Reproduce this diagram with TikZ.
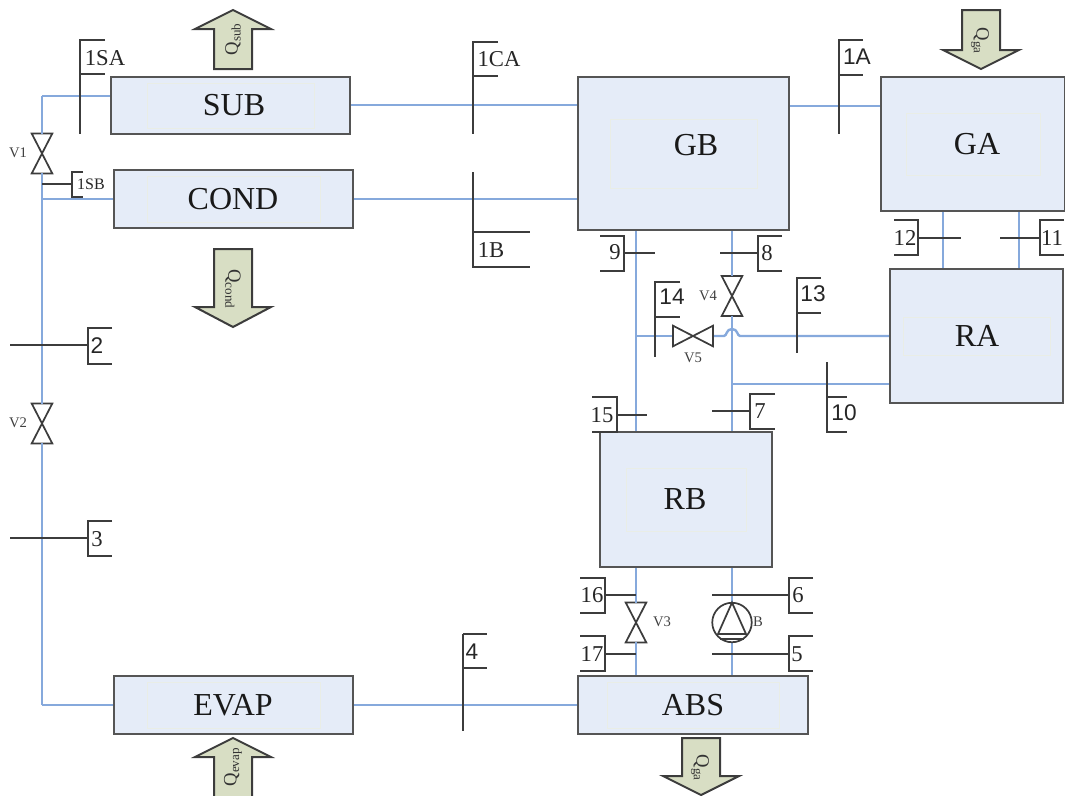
\documentclass[tikz,border=0pt]{standalone}
\usepackage{fontspec}
\setmainfont{Liberation Serif}
\newfontfamily\sansf{Liberation Sans}
\definecolor{boxfill}{HTML}{E5ECF8}
\definecolor{boxedge}{HTML}{555555}
\definecolor{innerc}{HTML}{E9EDE6}
\definecolor{pipec}{HTML}{86A9DC}
\definecolor{linec}{HTML}{3C3C3C}
\definecolor{arrowf}{HTML}{D8DEC4}
\tikzset{
  boxn/.style={draw=boxedge,fill=boxfill,line width=1.9pt,inner sep=0pt,font=\fontsize{24}{24}\selectfont,line join=miter},
  innerb/.style={draw=innerc,line width=0.6pt},
  pipe/.style={draw=pipec,line width=1.8pt},
  sect/.style={draw=linec,line width=1.3pt},
  lab/.style={inner sep=0pt,text=black!85,font=\fontsize{17}{17}\selectfont},
  slab/.style={inner sep=0pt,text=black!85,font=\sansf\fontsize{17}{17}\selectfont},
  vlab/.style={inner sep=0pt,text=black!75,font=\fontsize{11}{11}\selectfont},
  sym/.style={draw=linec,line width=1.3pt,line join=miter},
  qarrow/.style={draw=linec,fill=arrowf,line width=1.5pt,line join=miter},
  qlab/.style={inner sep=0pt,text=black!80,font=\fontsize{14}{14}\selectfont},
}
% name, x1, y1, x2, y2, label, inner inset x, inner inset y, label x, label y
\newcommand\bxn[8]{%
  \node[boxn,minimum width={(#4-#2)*0.75pt},minimum height={(#5-#3)*0.75pt},anchor=center] (#1) at ({(#2+#4)/2},{(#3+#5)/2}) {};
  \draw[innerb] ({#2+#7},{#3+#8}) rectangle ({#4-#7},{#5-#8});
}
\newcommand\bxl[4]{%
  \node[inner sep=0pt,font=\fontsize{24}{24}\selectfont,text=black!90] (#1t) at (#2,#3) {#4};
}
% vertical valve
\newcommand\vvalve[3]{%
  \node[inner sep=0pt,minimum width=15pt,minimum height=29.5pt] (#1) at (#2,#3) {};
  \draw[sym] (#1.north west)--(#1.north east)--(#1.south west)--(#1.south east)--cycle;
}
% arrows: center x, tip y, head base y, shaft end y
\newcommand\qarr[4]{%
  \draw[qarrow] (#1-38,#3)--(#1,#2)--(#1+38,#3)--(#1+19,#3)--(#1+19,#4)--(#1-19,#4)--(#1-19,#3)--cycle;
}
\begin{document}
\begin{tikzpicture}[x=0.75pt,y=-0.75pt]
\useasboundingbox (0,0) rectangle (1065,796);
% valves and pump
\vvalve{V1}{42}{153.5}
\vvalve{V2}{42}{423.5}
\vvalve{V3}{636}{622.5}
\vvalve{V4}{732}{296}
\node[inner sep=0pt,minimum width=29.5pt,minimum height=15pt] (V5) at (693,336) {};
\node[circle,inner sep=0pt,minimum size=29.5pt] (B) at (732,622.5) {};
% named pipe corners
\coordinate (c1) at (42,96);
\coordinate (c2) at (42,199);
\coordinate (c3) at (42,705);
\coordinate (c4) at (636,336);
\coordinate (c5) at (732,384);
\coordinate (h1) at (724,336);
\coordinate (h2) at (740,336);
% pipes (under the boxes)
\draw[pipe] (c1)--(V1.north);
\draw[pipe] (V1.south)--(V2.north);
\draw[pipe] (V2.south)--(c3);
\draw[pipe] (c2)--(114,199);
\draw[pipe] (c1)--(111,96);
\draw[pipe] (c3)--(114,705);
\draw[pipe] (350,105)--(578,105);
\draw[pipe] (353,199)--(578,199);
\draw[pipe] (789,106)--(881,106);
\draw[pipe] (353,705)--(578,705);
\draw[pipe] (636,230)--(636,432);
\draw[pipe] (732,230)--(V4.north);
\draw[pipe] (V4.south)--(732,432);
\draw[pipe] (c4)--(V5.west);
\draw[pipe] (V5.east)--(h1) .. controls (727,336) and (726,329) .. (732,329) .. controls (738,329) and (737,336) .. (h2)--(890,336);
\draw[pipe] (c5)--(890,384);
\draw[pipe] (943,211)--(943,269);
\draw[pipe] (1019,211)--(1019,269);
\draw[pipe] (636,567)--(V3.north);
\draw[pipe] (V3.south)--(636,676);
\draw[pipe] (732,567)--(B.north);
\draw[pipe] (B.south)--(732,676);
% boxes
\bxn{SUB}{111}{77}{350}{134}{SUB}{36}{6}
\bxl{SUB}{234}{105}{SUB}
\bxn{COND}{114}{170}{353}{228}{COND}{33}{6}
\bxl{COND}{233}{199}{COND}
\bxn{GB}{578}{77}{789}{230}{GB}{32}{42}
\bxl{GB}{696}{145}{GB}
\bxn{GA}{881}{77}{1065}{211}{GA}{25}{36}
\bxl{GA}{977}{144}{GA}
\bxn{RA}{890}{269}{1063}{403}{RA}{13}{48}
\bxl{RA}{977}{336}{RA}
\bxn{RB}{600}{432}{772}{567}{RB}{26}{36}
\bxl{RB}{685}{499}{RB}
\bxn{EVAP}{114}{676}{353}{734}{EVAP}{33}{6}
\bxl{EVAP}{233}{705}{EVAP}
\bxn{ABS}{578}{676}{808}{734}{ABS}{29}{6}
\bxl{ABS}{693}{705}{ABS}
% valve / pump symbols on top
\draw[sym] (V5.north west)--(V5.south west)--(V5.north east)--(V5.south east)--cycle;
\draw[sym] (B) circle (14.8pt);
\draw[sym] (B.north)--(718,634)--(746,634)--cycle;
\draw[sym] (720,639)--(744,639);
% section markers
\draw[sect] (105,40)--(80,40)--(80,134) (80,74)--(105,74);
\node[lab] (n1SA) at (105,58) {1SA};
\draw[sect] (42,184)--(72,184) (83,172)--(72,172)--(72,197)--(83,197);
\node[lab,font=\fontsize{12}{12}\selectfont] (n1SB) at (91,184) {1SB};
\draw[sect] (498,42)--(473,42)--(473,134) (473,76)--(498,76);
\node[lab] (n1CA) at (499,59) {1CA};
\draw[sect] (473,172)--(473,267)--(530,267) (473,232)--(530,232);
\node[lab] (n1B) at (491,250) {1B};
\draw[sect] (863,40)--(839,40)--(839,134) (839,75)--(863,75);
\node[slab] (n1A) at (857,57) {1A};
\draw[sect] (10,345)--(88,345) (112,328)--(88,328)--(88,364)--(112,364);
\node[slab] (n2) at (97,346) {2};
\draw[sect] (10,538)--(88,538) (112,521)--(88,521)--(88,556)--(112,556);
\node[lab] (n3) at (97,539) {3};
\draw[sect] (463,634)--(463,731) (463,634)--(487,634) (463,668)--(487,668);
\node[slab] (n4) at (472,652) {4};
\draw[sect] (600,236)--(624,236)--(624,271)--(600,271) (624,253)--(655,253);
\node[lab] (n9) at (615,252) {9};
\draw[sect] (782,236)--(758,236)--(758,271)--(782,271) (758,253)--(720,253);
\node[lab] (n8) at (767,253) {8};
\draw[sect] (680,282)--(655,282)--(655,357) (655,317)--(680,317);
\node[slab] (n14) at (672,297) {14};
\draw[sect] (821,278)--(797,278)--(797,353) (797,313)--(821,313);
\node[slab] (n13) at (813,294) {13};
\draw[sect] (827,362)--(827,432)--(847,432) (827,397)--(847,397);
\node[slab] (n10) at (844,413) {10};
\draw[sect] (592,397)--(617,397)--(617,432)--(592,432) (617,415)--(647,415);
\node[lab] (n15) at (602,415) {15};
\draw[sect] (775,394)--(750,394)--(750,429)--(775,429) (750,411)--(712,411);
\node[lab] (n7) at (760,411) {7};
\draw[sect] (580,578)--(605,578)--(605,613)--(580,613) (605,595)--(636,595);
\node[lab] (n16) at (592,595) {16};
\draw[sect] (580,636)--(605,636)--(605,671)--(580,671) (605,654)--(636,654);
\node[lab] (n17) at (592,654) {17};
\draw[sect] (813,578)--(789,578)--(789,613)--(813,613) (789,595)--(712,595);
\node[lab] (n6) at (798,595) {6};
\draw[sect] (813,636)--(789,636)--(789,671)--(813,671) (789,654)--(712,654);
\node[lab] (n5) at (797,654) {5};
\draw[sect] (894,220)--(918,220)--(918,255)--(894,255) (918,238)--(961,238);
\node[lab] (n12) at (905,238) {12};
\draw[sect] (1064,220)--(1040,220)--(1040,255)--(1064,255) (1040,238)--(1000,238);
\node[lab] (n11) at (1052,238) {11};
% valve labels
\node[vlab] (lV1) at (18,153) {V1};
\node[vlab] (lV2) at (18,423) {V2};
\node[vlab] (lV3) at (662,622) {V3};
\node[vlab] (lV4) at (708,296) {V4};
\node[vlab] (lV5) at (693,358) {V5};
\node[vlab] (lB) at (758,622) {B};
% heat arrows
\qarr{233}{10}{29}{69}
\qarr{233}{327}{307}{249}
\qarr{981}{69}{50}{10}
\qarr{701}{795}{776}{738}
\qarr{233}{738}{757}{797}
\node[qlab,rotate=90] (Qs) at (233,39) {Q\textsubscript{sub}};
\node[qlab,rotate=-90] (Qc) at (233,289) {Q\textsubscript{cond}};
\node[qlab,rotate=-90] (Qg) at (980,41) {Q\textsubscript{ga}};
\node[qlab,rotate=-90] (Qa) at (700,768) {Q\textsubscript{ga}};
\node[qlab,rotate=90] (Qe) at (233,767) {Q\textsubscript{evap}};
\end{tikzpicture}
\end{document}
